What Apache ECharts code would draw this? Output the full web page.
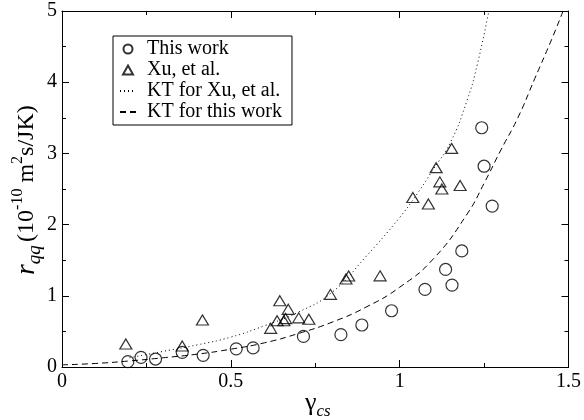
<!DOCTYPE html>
<html>
<head>
<meta charset="utf-8">
<script src="https://cdn.jsdelivr.net/npm/echarts@6/dist/echarts.min.js"></script>
<style>
  html, body { margin: 0; padding: 0; background: #fff; }
  #chart { width: 584px; height: 420px; }
</style>
</head>
<body>
<div id="chart"></div>
<script>
// measured points, this work (circles)
const thisWorkX = [0.195, 0.234, 0.277, 0.356, 0.418, 0.516, 0.566, 0.715, 0.826, 0.888, 0.976, 1.075, 1.136, 1.155, 1.184, 1.243, 1.25, 1.274];
const thisWorkY = [0.075, 0.136, 0.112, 0.206, 0.164, 0.255, 0.268, 0.43, 0.454, 0.59, 0.79, 1.09, 1.37, 1.15, 1.63, 3.36, 2.82, 2.26];

// Xu, et al. (triangles)
const xuX = [0.189, 0.356, 0.416, 0.618, 0.637, 0.645, 0.657, 0.662, 0.67, 0.701, 0.731, 0.795, 0.841, 0.849, 0.942, 1.039, 1.085, 1.108, 1.119, 1.125, 1.154, 1.179];
const xuY = [0.323, 0.295, 0.66, 0.543, 0.65, 0.93, 0.65, 0.68, 0.81, 0.69, 0.67, 1.02, 1.236, 1.278, 1.28, 2.38, 2.29, 2.8, 2.6, 2.5, 3.07, 2.55];

// KT curves
const ktXuX = [0.2, 0.3, 0.4, 0.5, 0.6, 0.7, 0.8, 0.9, 1.0, 1.05, 1.1, 1.15, 1.2, 1.23, 1.264];
const ktXuY = [0.13, 0.22, 0.31, 0.42, 0.58, 0.77, 1.05, 1.55, 2.1, 2.42, 2.78, 3.15, 3.75, 4.25, 5.0];

const ktThisX = [0, 0.1, 0.2, 0.3, 0.4, 0.5, 0.6, 0.7, 0.8, 0.9, 1.0, 1.1, 1.2, 1.25, 1.3, 1.35, 1.4, 1.45, 1.484];
const ktThisY = [0.03, 0.05, 0.085, 0.13, 0.18, 0.25, 0.34, 0.47, 0.63, 0.84, 1.12, 1.52, 2.15, 2.58, 3.05, 3.5, 4.05, 4.6, 5.0];

const seriesNames = ['This work', 'Xu, et al.', 'KT for Xu, et al.', 'KT for this work'];

const pairs = (xs, ys) => xs.map((x, i) => [x, ys[i]]);

const serif = 'Liberation Serif, DejaVu Serif, serif';
const chart = echarts.init(document.getElementById('chart'));

const tickAxis = (extra) => Object.assign({
  type: 'value',
  axisLine: { show: true, onZero: false, lineStyle: { color: '#000', width: 1 } },
  axisTick: { show: true, inside: true, length: 7, lineStyle: { color: '#000' } },
  minorTick: { show: true, splitNumber: 2, length: 4, lineStyle: { color: '#000' } },
  splitLine: { show: false },
  axisLabel: { show: false }
}, extra);

const option = {
  backgroundColor: '#fff',
  animation: false,
  grid: { left: 62, right: 13, top: 11, bottom: 53 },
  xAxis: [
    tickAxis({
      min: 0, max: 1.5, interval: 0.5, position: 'bottom',
      axisLabel: {
        show: true, color: '#000', fontFamily: serif, fontSize: 20, margin: 5,
        formatter: (v) => String(v)
      }
    }),
    tickAxis({ min: 0, max: 1.5, interval: 0.5, position: 'top' })
  ],
  yAxis: [
    tickAxis({
      min: 0, max: 5, interval: 1, position: 'left',
      axisLabel: { show: true, color: '#000', fontFamily: serif, fontSize: 20, margin: 5 }
    }),
    tickAxis({ min: 0, max: 5, interval: 1, position: 'right' })
  ],
  legend: {
    orient: 'vertical',
    left: 113, top: 36,
    width: 180,
    padding: [3, 10, 3, 6],
    itemGap: 1,
    itemWidth: 16,
    itemHeight: 9,
    symbolKeepAspect: true,
    borderColor: '#000',
    borderWidth: 1,
    borderRadius: 0,
    backgroundColor: '#fff',
    textStyle: { color: '#000', fontFamily: serif, fontSize: 20, lineHeight: 20, padding: [0, 0, 0, 6] },
    data: [
      { name: seriesNames[0] },
      { name: seriesNames[1], icon: 'path://M5,0 L10,9 L0,9 Z' },
      { name: seriesNames[2], itemStyle: { opacity: 0 } },
      { name: seriesNames[3], itemStyle: { opacity: 0 } }
    ]
  },
  series: [
    {
      name: seriesNames[3], type: 'line', smooth: true, showSymbol: false, symbol: 'none',
      data: pairs(ktThisX, ktThisY),
      lineStyle: { color: '#000', width: 1, type: [6, 4] }, itemStyle: { color: '#000' }
    },
    {
      name: seriesNames[2], type: 'line', smooth: true, showSymbol: false, symbol: 'none',
      data: pairs(ktXuX, ktXuY),
      lineStyle: { color: '#000', width: 1, type: [1, 3] }, itemStyle: { color: '#000' }
    },
    {
      name: seriesNames[0], type: 'scatter', symbol: 'circle', symbolSize: 12,
      data: pairs(thisWorkX, thisWorkY),
      itemStyle: { color: 'rgba(0,0,0,0)', borderColor: '#000', borderWidth: 1.2 }
    },
    {
      name: seriesNames[1], type: 'scatter', symbol: 'triangle', symbolSize: [12, 10],
      data: pairs(xuX, xuY),
      itemStyle: { color: 'rgba(0,0,0,0)', borderColor: '#000', borderWidth: 1.2 }
    }
  ],
  graphic: [
    {
      type: 'text', left: 305, top: 390,
      style: {
        text: '{g|γ}{s|cs}',
        rich: {
          g: { fontFamily: serif, fontSize: 26, fill: '#000', verticalAlign: 'top', lineHeight: 30 },
          s: { fontFamily: serif, fontSize: 17, fontStyle: 'italic', fill: '#000', verticalAlign: 'bottom', lineHeight: 30 }
        }
      }
    },
    {
      type: 'text', x: 27, y: 190, rotation: Math.PI / 2,
      style: {
        text: '{r|r}{sub|qq} {n|(10}{sup|-10}{n| m}{sup|2}{n|s/JK)}',
        align: 'center', verticalAlign: 'middle',
        rich: {
          r: { fontFamily: serif, fontSize: 27, fontStyle: 'italic', fill: '#000', verticalAlign: 'middle', lineHeight: 34 },
          sub: { fontFamily: serif, fontSize: 19, fontStyle: 'italic', fill: '#000', verticalAlign: 'bottom', lineHeight: 34 },
          n: { fontFamily: serif, fontSize: 24, fill: '#000', verticalAlign: 'middle', lineHeight: 34 },
          sup: { fontFamily: serif, fontSize: 16, fill: '#000', verticalAlign: 'top', lineHeight: 34 }
        }
      }
    }
  ]
};

option && chart.setOption(option);
</script>
</body>
</html>
